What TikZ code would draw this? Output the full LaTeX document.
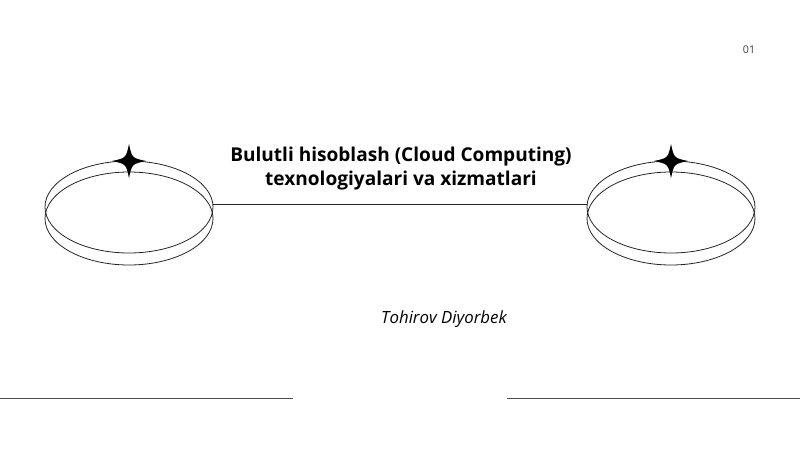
\documentclass[tikz,border=0pt]{standalone}
\usepackage{fontspec}
\setmainfont{Open Sans}
\begin{document}
\begin{tikzpicture}[x=0.75pt,y=-0.75pt,
  ring/.style={draw=black!85,line width=0.6pt},
  rule/.style={draw=black!70,line width=0.8pt},
  sparkle/.style={fill=black}]
\useasboundingbox[fill=white] (0,0) rectangle (800,450);
% left rings
\draw[ring] (129,207) ellipse [x radius=84,y radius=46];
\draw[ring] (129,218.5) ellipse [x radius=84,y radius=46.5];
\coordinate (lr) at (213,204);
% right rings
\draw[ring] (671,207) ellipse [x radius=84,y radius=46];
\draw[ring] (671,218.5) ellipse [x radius=84,y radius=46.5];
\coordinate (rl) at (587,204);
\draw[ring] (lr) -- (rl);
% sparkles
\foreach \cx in {129,671}{
  \fill[sparkle] (\cx,144) .. controls (\cx+3,158) .. (\cx+17,161)
     .. controls (\cx+3,164) .. (\cx,178)
     .. controls (\cx-3,164) .. (\cx-17,161)
     .. controls (\cx-3,158) .. (\cx,144) -- cycle;
}
% title
\node[font=\fontsize{14.3pt}{18pt}\selectfont\bfseries,align=center] (title) at (401,169)
  {Bulutli hisoblash (Cloud Computing)\\texnologiyalari va xizmatlari};
\node[font=\fontsize{12.6pt}{14pt}\selectfont\itshape] (author) at (444,319) {Tohirov Diyorbek};
\node[font=\fontsize{8pt}{9pt}\selectfont,text=black!75] (page) at (749,50) {01};
% bottom rules
\coordinate (b1) at (0,398.3);
\coordinate (b2) at (293,398.3);
\coordinate (b3) at (507,398.3);
\coordinate (b4) at (800,398.3);
\draw[rule] (b1) -- (b2);
\draw[rule] (b3) -- (b4);
\end{tikzpicture}
\end{document}
